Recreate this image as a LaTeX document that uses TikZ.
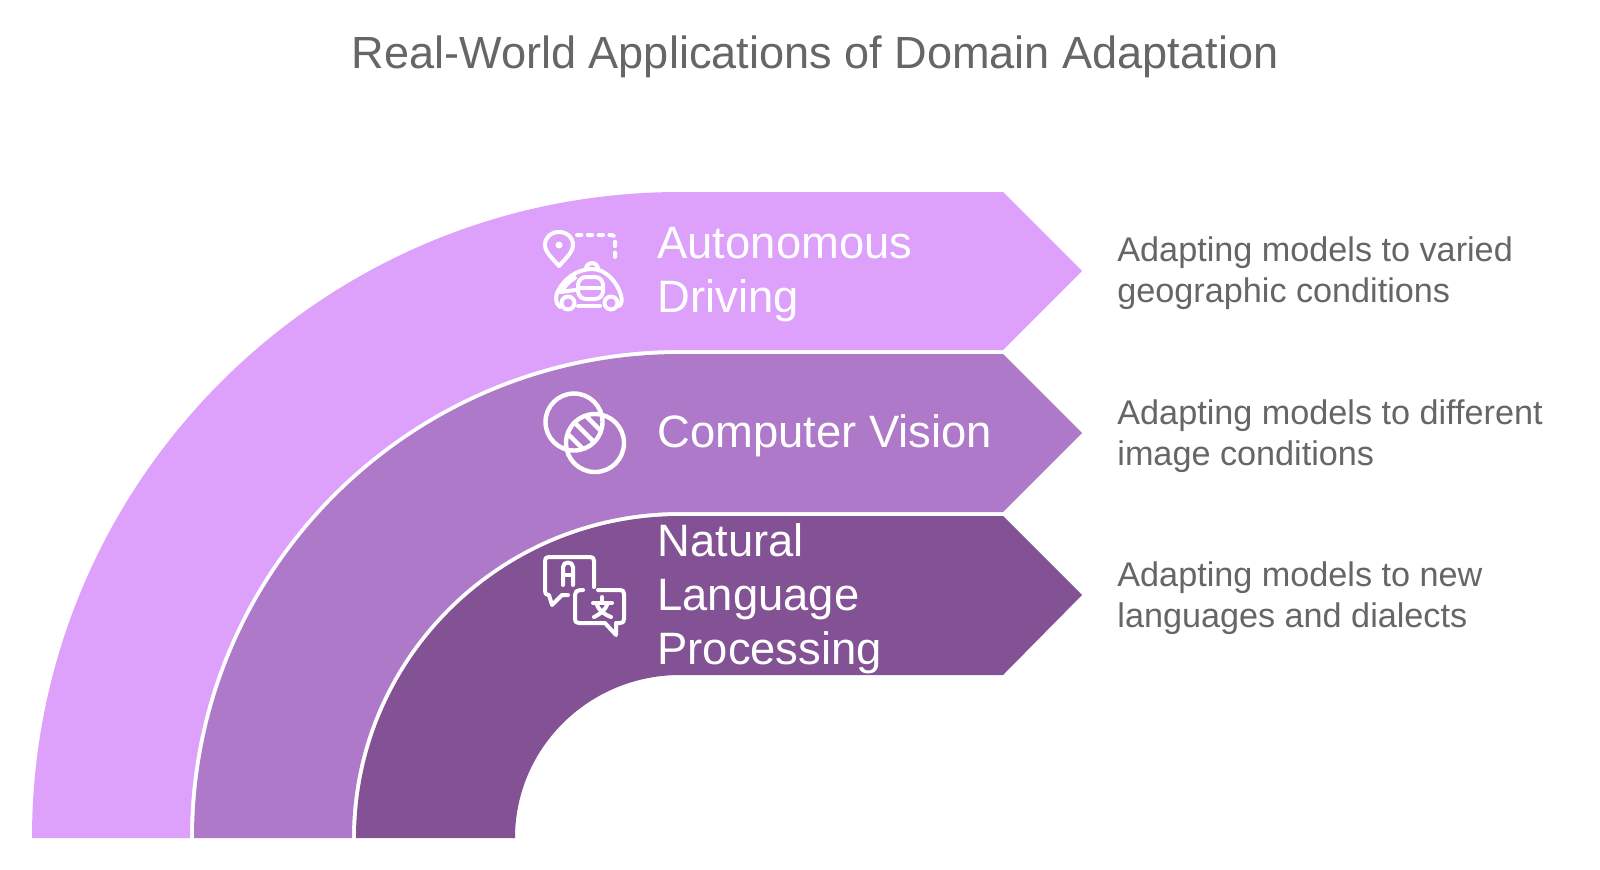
\documentclass[tikz,border=0pt]{standalone}
\usepackage{fontspec}
\setmainfont{Liberation Sans}
\definecolor{bandA}{HTML}{DDA0FB}
\definecolor{bandB}{HTML}{AF79C9}
\definecolor{bandC}{HTML}{825295}
\definecolor{txt}{HTML}{666666}
\tikzset{
 titletext/.style={inner sep=0pt,text=txt,font=\fontsize{22.55}{27}\selectfont},
 labeltext/.style={anchor=west,inner sep=0pt,text=white,align=left,font=\fontsize{22.7}{27}\selectfont},
 desctext/.style={anchor=west,inner sep=0pt,text=txt,align=left,font=\fontsize{17.1}{20.4}\selectfont},
 icon/.style={draw=white,line width=2pt,line cap=round,line join=round},
 band/.style={draw=none},
}
\begin{document}
\begin{tikzpicture}[x=0.5pt,y=-0.5pt]
\useasboundingbox (0,0) rectangle (1600,869);
\fill[white] (0,0) rectangle (1600,869);
% bands
\fill[band,bandA] (32,838) arc[start angle=180,end angle=90,x radius=648,y radius=-646] -- (1003,192) -- (1082,271) -- (1003,350) -- (680,350) arc[start angle=90,end angle=180,x radius=490,y radius=-488] -- cycle;
\fill[band,bandB] (194,838) arc[start angle=180,end angle=90,x radius=486,y radius=-484] -- (1003,354) -- (1082,433) -- (1003,512) -- (680,512) arc[start angle=90,end angle=180,x radius=328,y radius=-326] -- cycle;
\fill[band,bandC] (356,838) arc[start angle=180,end angle=90,x radius=324,y radius=-322] -- (1003,516) -- (1082,595) -- (1003,675) -- (680,675) arc[start angle=90,end angle=180,x radius=165,y radius=-163] -- cycle;
% text
\node[titletext] (title) at (815,57) {Real-World Applications of Domain Adaptation};
\node[labeltext] (l1) at (657,275) {Autonomous\\Driving};
\node[labeltext] (l2) at (657,436) {Computer Vision};
\node[labeltext] (l3) at (657,599) {Natural\\Language\\Processing};
\node[desctext] (d1) at (1117,273) {Adapting models to varied\\geographic conditions};
\node[desctext] (d2) at (1117,436) {Adapting models to different\\image conditions};
\node[desctext] (d3) at (1117,598) {Adapting models to new\\languages and dialects};
% icon 1
\draw[icon] (559,266) .. controls (552,258) and (545,252) .. (545,245) .. controls (545,237) and (551,232) .. (559,232) .. controls (567,232) and (573,237) .. (573,245) .. controls (573,252) and (566,258) .. (559,266) -- cycle;
\fill[white] (559,245) circle[radius=3.5];
\draw[icon,dash pattern=on 2.2pt off 3.2pt] (577,235) -- (611,235) .. controls (614,235) and (615,236) .. (615,239) -- (615,262);
\draw[icon] (560,307) .. controls (555,303) and (555,296) .. (558,291) .. controls (564,279) and (577,269) .. (592,269) .. controls (606,269) and (617,282) .. (621,295) .. controls (622,300) and (622,304) .. (619,306);
\draw[icon] (586,269) arc[start angle=180,end angle=360,radius=6];
\draw[icon] (578,306) -- (600,306);
\draw[icon,fill=bandA] (568,303) circle[radius=6.5];
\draw[icon,fill=bandA] (611,303) circle[radius=6.5];
\draw[icon,rounded corners=4pt] (578,277) rectangle (603,299);
\draw[icon] (578,288) -- (603,288);
\draw[icon] (561,292) .. controls (565,286) and (569,281) .. (575,278);
\draw[icon] (561,292) -- (575,290);
% icon 2
\draw[icon,line width=2.2pt] (574,422) circle[radius=28.5];
\draw[icon,line width=2.2pt] (595,443) circle[radius=29];
\begin{scope}
\clip (574,422) circle[radius=28.5];
\clip (595,443) circle[radius=29];
\draw[icon,line width=2.2pt,line cap=butt] (575,405) -- (610,440);
\draw[icon,line width=2.2pt,line cap=butt] (565,413) -- (602,450);
\draw[icon,line width=2.2pt,line cap=butt] (556,422) -- (592,458);
\end{scope}
% icon 3
\draw[icon] (594,587) -- (594,561) .. controls (594,558) and (593,557) .. (590,557) -- (549,557) .. controls (546,557) and (545,558) .. (545,561) -- (545,591) .. controls (545,594) and (546,595) .. (549,595) -- (549,595) -- (552,605) -- (562,595) -- (568,595);
\draw[icon] (583,590) -- (580,590) .. controls (577,590) and (575,592) .. (575,595) -- (575,619) .. controls (575,622) and (576,623) .. (579,623) -- (605,623) -- (616,635) -- (616,623) -- (620,623) .. controls (623,623) and (624,622) .. (624,619) -- (624,594) .. controls (624,591) and (623,590) .. (620,590) -- (598,590);
\draw[icon] (563,585) -- (563,567) .. controls (563,561) and (573,561) .. (573,567) -- (573,585);
\draw[icon] (563,575) -- (573,575);
\draw[icon] (602,597) -- (602,600);
\draw[icon] (593,603) -- (612,603);
\draw[icon] (597,605) .. controls (600,612) and (606,615) .. (611,617);
\draw[icon] (607,605) .. controls (604,612) and (598,615) .. (594,617);
\end{tikzpicture}
\end{document}
